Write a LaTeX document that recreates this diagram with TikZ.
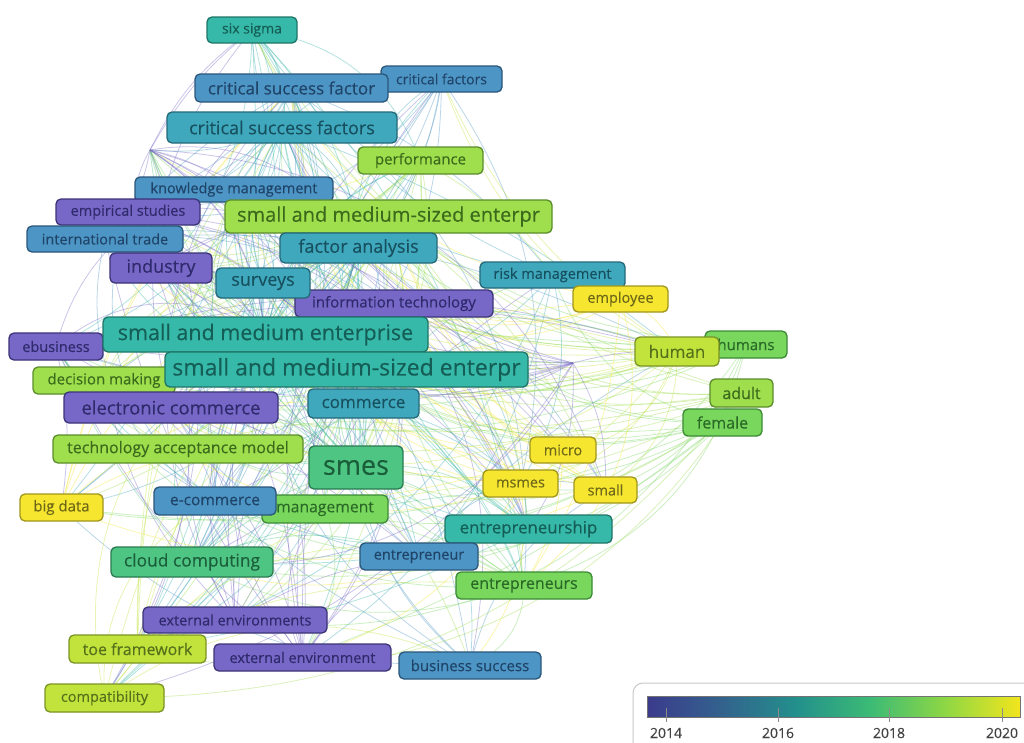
\documentclass[tikz,border=0pt]{standalone}
\usepackage{fontspec}
\setmainfont{Open Sans}[UprightFeatures={FakeBold=0.25}]
\usetikzlibrary{backgrounds}
% node colour classes: F fill, D border, T text
\definecolor{purpF}{HTML}{7767C6}\definecolor{purpD}{HTML}{3C3478}\definecolor{purpT}{HTML}{2E2A6C}
\definecolor{bluF}{HTML}{4C95C5}\definecolor{bluD}{HTML}{2B567A}\definecolor{bluT}{HTML}{1F4468}
\definecolor{tbluF}{HTML}{3FA8BD}\definecolor{tbluD}{HTML}{246878}\definecolor{tbluT}{HTML}{17505E}
\definecolor{tealF}{HTML}{36B9A8}\definecolor{tealD}{HTML}{1F7468}\definecolor{tealT}{HTML}{155E57}
\definecolor{gtealF}{HTML}{4FC584}\definecolor{gtealD}{HTML}{2A7A50}\definecolor{gtealT}{HTML}{1A5E3A}
\definecolor{grnF}{HTML}{79D75E}\definecolor{grnD}{HTML}{3C8A36}\definecolor{grnT}{HTML}{2A6A26}
\definecolor{lgrnF}{HTML}{9FDE4C}\definecolor{lgrnD}{HTML}{5A8C2C}\definecolor{lgrnT}{HTML}{3C6A1C}
\definecolor{ygrnF}{HTML}{C2E33C}\definecolor{ygrnD}{HTML}{7A9424}\definecolor{ygrnT}{HTML}{55701A}
\definecolor{yelF}{HTML}{F6E630}\definecolor{yelD}{HTML}{A0961E}\definecolor{yelT}{HTML}{6E6818}
\definecolor{legGray}{HTML}{C8C8C8}\definecolor{legText}{HTML}{444444}
\definecolor{vA}{HTML}{3B3B8C}\definecolor{vB}{HTML}{33628D}\definecolor{vC}{HTML}{23908C}
\definecolor{vD}{HTML}{3CBB75}\definecolor{vE}{HTML}{8FD744}\definecolor{vF}{HTML}{F2E51D}
\pgfdeclarehorizontalshading{viridisbar}{100bp}{color(0bp)=(vA); color(25bp)=(vA); color(35bp)=(vB); color(45bp)=(vC); color(55bp)=(vD); color(65bp)=(vE); color(75bp)=(vF); color(100bp)=(vF)}
\newcommand\fs[1]{\fontsize{#1}{#1}\selectfont}
\tikzset{
  kwbox/.style={rounded corners=5pt, line width=1.3pt, inner sep=0pt},
  purp/.style={fill=purpF, draw=purpD, text=purpT},
  blu/.style={fill=bluF, draw=bluD, text=bluT},
  tblu/.style={fill=tbluF, draw=tbluD, text=tbluT},
  teal/.style={fill=tealF, draw=tealD, text=tealT},
  gteal/.style={fill=gtealF, draw=gtealD, text=gtealT},
  grn/.style={fill=grnF, draw=grnD, text=grnT},
  lgrn/.style={fill=lgrnF, draw=lgrnD, text=lgrnT},
  ygrn/.style={fill=ygrnF, draw=ygrnD, text=ygrnT},
  yel/.style={fill=yelF, draw=yelD, text=yelT},
  lnk/.style={line width=0.8pt, opacity=0.38},
}
\begin{document}
\begin{tikzpicture}[x=1pt,y=-1pt]
\useasboundingbox (0,0) rectangle (1024,742);
% keywords (drawn in stacking order)
\node[kwbox,teal,minimum width=90pt,minimum height=26pt,font=\fs{14}] (sixsigma) at (252,30) {six sigma};
\node[kwbox,blu,minimum width=121pt,minimum height=26pt,font=\fs{14}] (cf) at (441.5,79) {critical factors};
\node[kwbox,blu,minimum width=193pt,minimum height=28pt,font=\fs{17}] (csfa) at (291.5,88) {critical success factor};
\node[kwbox,tblu,minimum width=230pt,minimum height=31pt,font=\fs{18}] (csf) at (282,127.5) {critical success factors};
\node[kwbox,lgrn,minimum width=125pt,minimum height=27pt,font=\fs{15}] (performance) at (420.5,160.5) {performance};
\node[kwbox,blu,minimum width=198pt,minimum height=25pt,font=\fs{14.5}] (km) at (234,189.5) {knowledge management};
\node[kwbox,purp,minimum width=144pt,minimum height=26pt,font=\fs{14.5}] (es) at (128,212) {empirical studies};
\node[kwbox,lgrn,minimum width=327pt,minimum height=33pt,font=\fs{20}] (smsea) at (388.5,216.5) {small and medium-sized enterpr};
\node[kwbox,blu,minimum width=156pt,minimum height=26pt,font=\fs{14.5}] (it) at (105,239) {international trade};
\node[kwbox,tblu,minimum width=157pt,minimum height=30pt,font=\fs{18}] (fa) at (358.5,248) {factor analysis};
\node[kwbox,purp,minimum width=102pt,minimum height=30pt,font=\fs{18}] (industry) at (161,268) {industry};
\node[kwbox,tblu,minimum width=145pt,minimum height=26pt,font=\fs{14.5}] (rm) at (552.5,275) {risk management};
\node[kwbox,yel,minimum width=95pt,minimum height=26pt,font=\fs{14.5}] (employee) at (620.5,299) {employee};
\node[kwbox,purp,minimum width=198pt,minimum height=27pt,font=\fs{15}] (infotech) at (394,303.5) {information technology};
\node[kwbox,tblu,minimum width=94pt,minimum height=30pt,font=\fs{18}] (surveys) at (263,283) {surveys};
\node[kwbox,purp,minimum width=94pt,minimum height=27pt,font=\fs{14.5}] (ebusiness) at (56,346.5) {ebusiness};
\node[kwbox,teal,minimum width=325pt,minimum height=35pt,font=\fs{21.5}] (sme) at (265.5,334.5) {small and medium enterprise};
\node[kwbox,lgrn,minimum width=142pt,minimum height=27pt,font=\fs{15}] (dm) at (104,380.5) {decision making};
\node[kwbox,teal,minimum width=363pt,minimum height=35pt,font=\fs{23}] (smseb) at (346.5,369.5) {small and medium-sized enterpr};
\node[kwbox,grn,minimum width=82pt,minimum height=27pt,font=\fs{15}] (humans) at (746,344.5) {humans};
\node[kwbox,ygrn,minimum width=84pt,minimum height=29pt,font=\fs{17}] (human) at (677,351.5) {human};
\node[kwbox,purp,minimum width=214pt,minimum height=31pt,font=\fs{18.4}] (ec) at (171,407.5) {electronic commerce};
\node[kwbox,tblu,minimum width=111pt,minimum height=29pt,font=\fs{17}] (commerce) at (363.5,403.5) {commerce};
\node[kwbox,lgrn,minimum width=63pt,minimum height=28pt,font=\fs{16}] (adult) at (741.5,393) {adult};
\node[kwbox,grn,minimum width=79pt,minimum height=27pt,font=\fs{16}] (female) at (722.5,422.5) {female};
\node[kwbox,lgrn,minimum width=250pt,minimum height=28pt,font=\fs{16}] (tam) at (178,449) {technology acceptance model};
\node[kwbox,gteal,minimum width=94pt,minimum height=43pt,font=\fs{27}] (smes) at (356,467.5) {smes};
\node[kwbox,yel,minimum width=66pt,minimum height=26pt,font=\fs{14.5}] (micro) at (563,450) {micro};
\node[kwbox,yel,minimum width=75pt,minimum height=27pt,font=\fs{14.5}] (msmes) at (520.5,483.5) {msmes};
\node[kwbox,yel,minimum width=63pt,minimum height=26pt,font=\fs{14.5}] (small) at (605.5,490) {small};
\node[kwbox,yel,minimum width=83pt,minimum height=27pt,font=\fs{15}] (bigdata) at (61.5,507.5) {big data};
\node[kwbox,grn,minimum width=126pt,minimum height=28pt,font=\fs{15.7}] (management) at (325,509) {management};
\node[kwbox,blu,minimum width=122pt,minimum height=28pt,font=\fs{15.5}] (ecom) at (215,501) {e-commerce};
\node[kwbox,teal,minimum width=167pt,minimum height=28pt,font=\fs{16.8}] (entship) at (528.5,529) {entrepreneurship};
\node[kwbox,blu,minimum width=118pt,minimum height=27pt,font=\fs{14.5}] (entrepreneur) at (419,556.5) {entrepreneur};
\node[kwbox,gteal,minimum width=162pt,minimum height=30pt,font=\fs{17.4}] (cc) at (192,562) {cloud computing};
\node[kwbox,grn,minimum width=136pt,minimum height=27pt,font=\fs{16}] (entrepreneurs) at (524,585.5) {entrepreneurs};
\node[kwbox,purp,minimum width=184pt,minimum height=26pt,font=\fs{14.5}] (eenvs) at (235,620) {external environments};
\node[kwbox,ygrn,minimum width=137pt,minimum height=28pt,font=\fs{16}] (toe) at (137.5,649) {toe framework};
\node[kwbox,purp,minimum width=177pt,minimum height=27pt,font=\fs{14.5}] (eenv) at (302.5,657.5) {external environment};
\node[kwbox,blu,minimum width=142pt,minimum height=27pt,font=\fs{15}] (bs) at (470,665.5) {business success};
\node[kwbox,ygrn,minimum width=119pt,minimum height=28pt,font=\fs{14.5}] (compat) at (104.5,698) {compatibility};
\coordinate (hubR) at (573,363);
\coordinate (hubL) at (150,150);
% links
\pgfmathsetseed{11}
\pgfmathdeclarerandomlist{tgt}{{sme}{smseb}{smes}{csf}{csfa}{fa}{surveys}{industry}{ec}{commerce}{tam}{km}{es}{it}{ebusiness}{dm}{sixsigma}{smsea}{infotech}{management}{ecom}{cc}{sme}{smseb}{smes}{csf}{entship}{entrepreneur}{entrepreneurs}{bs}{eenv}{eenvs}{toe}{compat}{bigdata}{rm}{performance}{cf}{human}{msmes}{micro}{small}{hubL}{sme}{smes}{smseb}{fa}{surveys}}
\begin{scope}[on background layer]
\fill[white] (0,0) rectangle (1024,742);
\foreach \src/\col/\cnt in {sme/tealF/14, smseb/tealF/14, smes/gtealF/14, csf/tbluF/10, csfa/bluF/9, sixsigma/tealF/9, fa/tbluF/8, surveys/tbluF/8, industry/purpF/8, ec/purpF/8, commerce/tbluF/6, tam/lgrnF/7, km/bluF/7, es/purpF/6, it/bluF/6, ebusiness/purpF/6, dm/lgrnF/5, smsea/lgrnF/9, infotech/purpF/7, management/grnF/6, ecom/bluF/6, cc/gtealF/7, entship/tealF/7, entrepreneur/bluF/5, entrepreneurs/grnF/6, bs/bluF/5, eenv/purpF/6, eenvs/purpF/6, toe/ygrnF/6, compat/ygrnF/5, bigdata/yelF/5, rm/tbluF/5, performance/lgrnF/7, cf/bluF/6, human/ygrnF/12, humans/grnF/10, adult/lgrnF/10, female/grnF/10, employee/yelF/7, micro/yelF/6, msmes/yelF/6, small/yelF/6, hubR/purpF/12, hubL/purpF/10} {
  \pgfmathtruncatemacro{\nn}{1.4*\cnt}
  \foreach \k in {1,...,\nn} {
    \pgfmathrandomitem{\tg}{tgt}
    \pgfmathsetmacro{\bb}{8+30*rnd}
    \draw[lnk,draw=\col] (\src.center) to[bend left=\bb] (\tg.center);
  }
}
\end{scope}
% legend
\draw[draw=legGray, line width=1pt, fill=white, rounded corners=10pt] (633,683) rectangle (1045,765);
\shade[shading=viridisbar] (647,696) rectangle (1020,717);
\draw[draw=black!55, line width=0.5pt] (647,696) rectangle (1020,717);
\foreach \x/\yr in {666/2014, 778/2016, 889/2018, 1002/2020} {
  \draw[draw=black!45, line width=0.8pt] (\x,708) -- (\x,722);
  \node[font=\fs{14}, text=legText, inner sep=0pt] (yr\yr) at (\x,733) {\yr};
}
\end{tikzpicture}
\end{document}
